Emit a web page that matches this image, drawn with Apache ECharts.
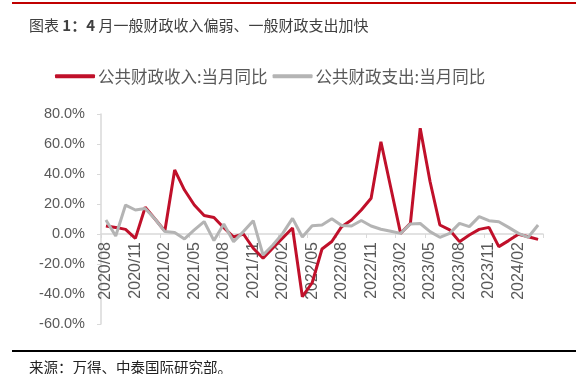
<!DOCTYPE html>
<html><head><meta charset="utf-8">
<script src="https://cdn.jsdelivr.net/npm/echarts@6/dist/echarts.min.js"></script>
<style>html,body{margin:0;padding:0;background:#fff}#c{width:576px;height:374px}</style>
</head><body><div id="c"></div>
<script>
const titlePrefix = '图表 ';
const titleBold = '1：4';
const titleRest = ' 月一般财政收入偏弱、一般财政支出加快';
const sourceText = '来源：万得、中泰国际研究部。';
const seriesNames = ['公共财政收入:当月同比', '公共财政支出:当月同比'];
const categories = [
  '2020/08','2020/09','2020/10','2020/11','2020/12',
  '2021/01','2021/02','2021/03','2021/04','2021/05','2021/06','2021/07','2021/08','2021/09','2021/10','2021/11','2021/12',
  '2022/01','2022/02','2022/03','2022/04','2022/05','2022/06','2022/07','2022/08','2022/09','2022/10','2022/11','2022/12',
  '2023/01','2023/02','2023/03','2023/04','2023/05','2023/06','2023/07','2023/08','2023/09','2023/10','2023/11','2023/12',
  '2024/01','2024/02','2024/03','2024/04'
];
const revenueYoY = [
  5.3, 4.4, 3.1, -2.9, 17.8,
  10.0, 2.0, 42.7, 29.3, 19.3, 12.3, 11.0, 4.2, -2.0, 0.0, -9.5, -16.2,
  -9.3, -2.7, 4.0, -41.8, -32.5, -10.0, -5.0, 4.9, 9.3, 16.0, 23.8, 61.5,
  31.0, 0.4, 7.1, 70.5, 35.0, 6.0, 2.7, -5.1, -0.7, 3.1, 4.4, -8.4,
  -4.4, -0.2, -1.8, -3.6
];
const expenditureYoY = [
  9.3, -1.3, 19.3, 16.0, 17.0,
  10.0, 1.6, 1.0, -3.3, 2.7, 8.3, -4.4, 6.7, -5.1, 1.6, 8.9, -14.0,
  -7.3, 0.4, 10.4, -2.0, 5.5, 6.0, 10.2, 5.6, 5.3, 9.0, 5.3, 3.2,
  1.8, 0.4, 6.7, 7.0, 1.6, -2.2, 0.4, 7.1, 4.9, 11.6, 8.9, 8.2,
  4.4, 0.4, -2.2, 6.0
];
const yMin = -60, yMax = 80, yStep = 20;

const gridTop = 114, gridBottom = 50, chartH = 374;
const plotH = chartH - gridTop - gridBottom;
// distance from bottom of grid up to the zero line, used to place the category axis on y = 0
const zeroOffset = -plotH * (0 - yMin) / (yMax - yMin);

const chart = echarts.init(document.getElementById('c'), null, {renderer: 'canvas'});
chart.setOption({
  backgroundColor: '#fff',
  animation: false,
  title: [
    {
      text: '{n|' + titlePrefix + '}{b|' + titleBold + '}{n|' + titleRest + '}',
      left: 24, top: 13,
      textStyle: {
        rich: {
          n: {fontFamily: 'Noto Sans CJK SC', fontSize: 15, fontWeight: 'normal', color: '#404040'},
          b: {fontFamily: 'Noto Sans CJK SC', fontSize: 15, fontWeight: 'bold', color: '#404040'}
        }
      }
    },
    {text: sourceText, left: 24, top: 355, textStyle: {fontFamily: 'Noto Sans CJK SC', fontSize: 14.5, fontWeight: 'normal', color: '#222'}}
  ],
  graphic: [
    {type: 'rect', shape: {x: 12, y: 2, width: 564, height: 2}, style: {fill: '#C00000'}},
    {type: 'rect', shape: {x: 12, y: 350, width: 564, height: 2}, style: {fill: '#000'}}
  ],
  legend: {
    left: 50, top: 63,
    itemWidth: 40, itemHeight: 4, itemGap: 5,
    icon: 'roundRect',
    textStyle: {fontFamily: 'Noto Sans CJK SC', fontSize: 16.5, color: '#595959', padding: [0, 0, 0, -2]},
    data: seriesNames
  },
  grid: {left: 101, right: 33, top: gridTop, bottom: gridBottom, containLabel: false, outerBoundsMode: 'none'},
  xAxis: {
    type: 'category',
    data: categories,
    boundaryGap: true,
    offset: zeroOffset,
    axisLine: {onZero: false, lineStyle: {color: '#D9D9D9', width: 1.5}},
    axisTick: {show: true, interval: 2, length: 4, lineStyle: {color: '#D9D9D9'}},
    axisLabel: {interval: 2, rotate: 90, margin: 8, fontFamily: 'Liberation Sans', fontSize: 16, color: '#595959'}
  },
  yAxis: {
    type: 'value',
    min: yMin, max: yMax, interval: yStep,
    axisLine: {show: true, lineStyle: {color: '#D9D9D9', width: 1.5}},
    axisTick: {show: true, length: 4, lineStyle: {color: '#D9D9D9'}},
    splitLine: {show: false},
    axisLabel: {margin: 16, fontFamily: 'Liberation Sans', fontSize: 14.5, color: '#595959', formatter: v => v.toFixed(1) + '%'}
  },
  series: [
    {name: seriesNames[0], type: 'line', data: revenueYoY, symbol: 'none', itemStyle: {color: '#C0102A'}, lineStyle: {width: 3, color: '#C0102A'}},
    {name: seriesNames[1], type: 'line', data: expenditureYoY, symbol: 'none', itemStyle: {color: '#B4B4B4'}, lineStyle: {width: 3, color: '#B4B4B4'}}
  ]
});
</script></body></html>
